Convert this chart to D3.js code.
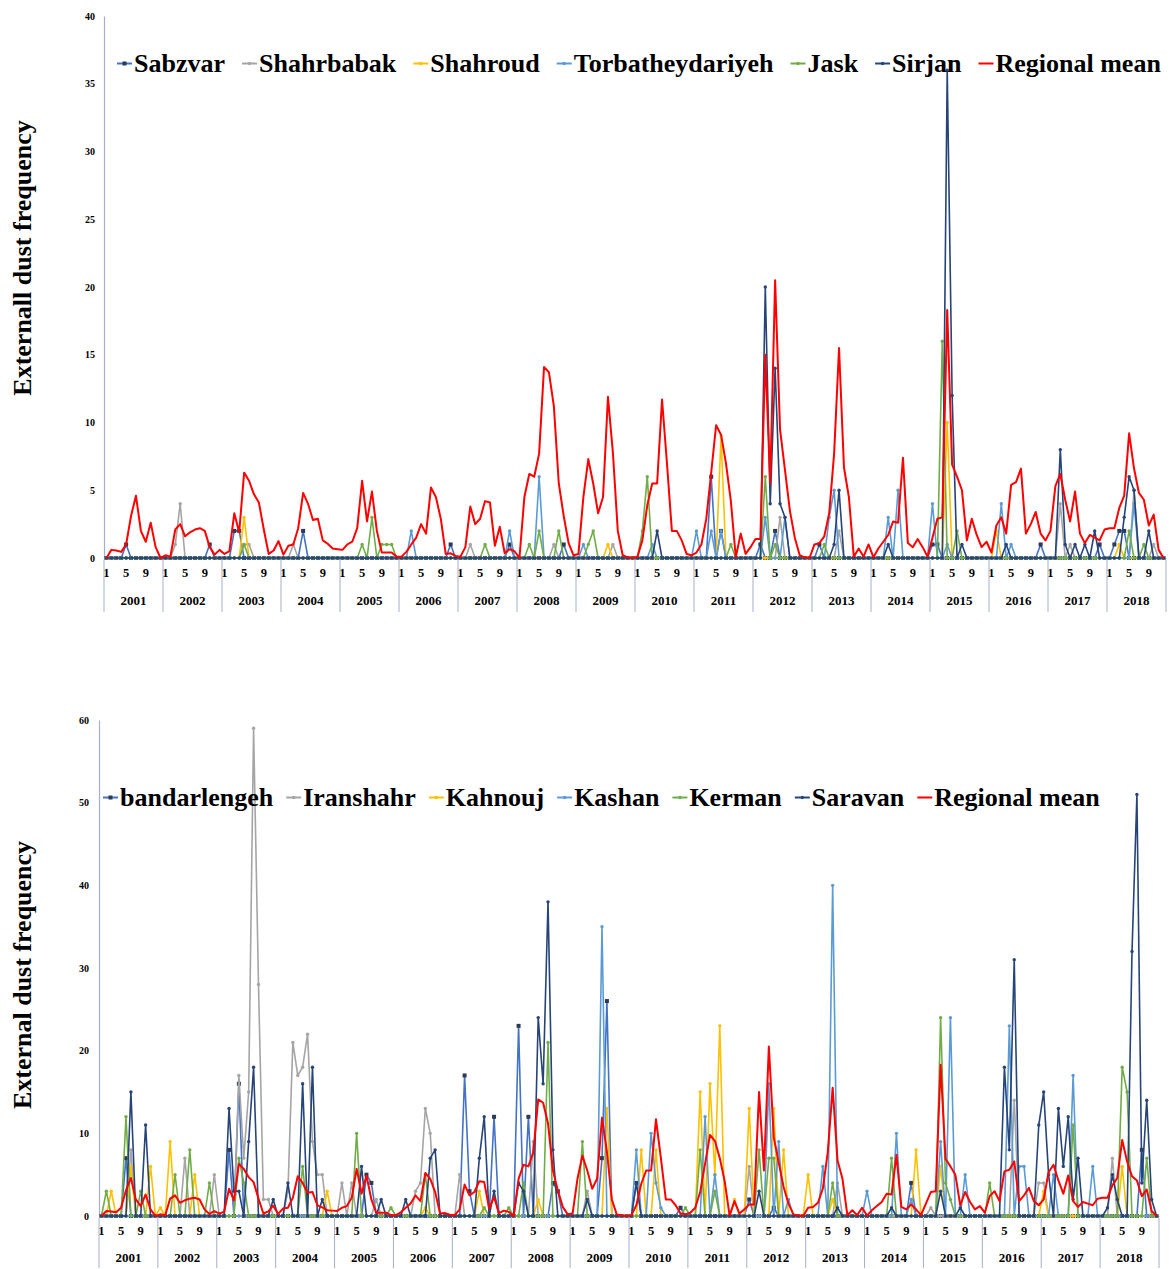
<!DOCTYPE html>
<html>
<head>
<meta charset="utf-8">
<script src="https://cdn.jsdelivr.net/npm/d3@7"></script>
<style>
body { margin: 0; background: #fff; }
svg text { font-family: "Liberation Serif", "Times New Roman", serif; font-weight: bold; fill: #000; }
</style>
</head>
<body>
<svg id="chart" width="1172" height="1269"></svg>
<script>
// ---- categories / ticks ----
var yearLabels = ["2001","2002","2003","2004","2005","2006","2007","2008","2009",
                  "2010","2011","2012","2013","2014","2015","2016","2017","2018"];
var monthTicks = [1, 5, 9];
var yTicksTop = [0, 5, 10, 15, 20, 25, 30, 35, 40];
var yTicksBottom = [0, 10, 20, 30, 40, 50, 60];

// ---- regional mean (shared by both panels), one row per year ----
var regionalMean = [
  [0,0.6,0.55,0.45,1.0,3.1,4.6,2.0,1.2,2.6,0.8,0],
  [0.2,0.1,2.1,2.5,1.6,1.9,2.1,2.2,2.0,0.8,0.25,0.6],
  [0.3,0.5,3.3,1.9,6.3,5.7,4.7,4.1,2.1,0.3,0.55,1.25],
  [0.25,0.9,1.0,2.2,4.8,4.0,2.8,2.9,1.3,1.05,0.7,0.65],
  [0.6,1.0,1.2,2.2,5.7,2.7,4.9,2.0,0.4,0.4,0.4,0.1],
  [0.1,0.45,1.0,1.5,2.5,1.8,5.2,4.5,2.9,0.3,0.35,0.15],
  [0.1,0.8,3.8,2.5,2.9,4.2,4.1,0.9,2.3,0.35,0.65,0.5],
  [0,4.5,6.2,6.0,7.7,14.1,13.7,11.2,5.5,3.1,1.1,0.2],
  [0.3,4.5,7.3,5.5,3.3,4.5,11.9,7.8,2.0,0.2,0.05,0],
  [0.1,1.3,3.9,5.5,5.5,11.7,7.0,2.0,2.0,1.3,0.3,0.2],
  [0.4,1.0,2.9,6.3,9.8,9.1,7.0,4.2,0.05,1.8,0.3,0.8],
  [1.4,1.4,15.0,5.5,20.5,9.5,6.5,3.5,1.5,0.2,0.05,0],
  [1.0,1.1,1.6,3.3,7.7,15.5,6.7,4.5,0.1,0.7,0.1,1.0],
  [0.05,0.7,1.2,1.7,2.7,2.6,7.4,1.1,0.8,1.4,0.8,0.1],
  [1.5,2.9,3.0,18.3,6.9,6.0,5.0,1.3,2.9,1.7,0.8,1.2],
  [0.4,2.4,3.0,1.8,5.4,5.6,6.6,1.8,2.5,3.4,1.8,1.3],
  [2.0,5.3,6.2,4.3,2.7,4.9,1.8,1.1,1.7,1.5,1.3,2.1],
  [2.2,2.2,3.7,4.6,9.2,6.6,4.8,4.3,2.4,3.2,0.6,0]
];

// ---- top panel stations ----
var sabzvar = [
  [0,0,0,0,1,0,0,0,0,0,0,0],[0,0,0,0,0,0,0,0,0,1,0,0],[0,0,2,2,0,0,0,0,0,0,0,0],
  [0,0,0,0,2,0,0,0,0,0,0,0],[0,0,0,0,0,0,0,0,0,0,0,0],[0,0,0,0,0,0,0,0,0,0,1,0],
  [0,0,0,0,0,0,0,0,0,0,1,0],[0,0,0,0,0,0,0,0,0,1,0,0],[0,0,0,0,0,0,0,0,0,0,0,0],
  [0,0,0,0,0,0,0,0,0,0,0,0],[0,0,0,6,0,2,0,0,0,0,0,0],[0,1,0,0,2,0,0,0,0,0,0,0],
  [0,1,0,0,0,0,0,0,0,0,0,0],[0,0,0,0,0,0,0,0,0,0,0,0],[1,1,0,0,0,0,0,0,0,0,0,0],
  [0,0,0,0,0,0,0,0,0,0,1,0],[0,0,0,0,0,0,0,0,0,0,1,0],[0,1,2,2,0,0,0,0,0,0,0,0]
];
var shahrbabak = [
  [0,0,0,0,0,0,0,0,0,0,0,0],[0,0,1,4,0,0,0,0,0,0,0,0],[0,0,0,0,1,1,0,0,0,0,0,0],
  [0,0,1,0,0,0,0,0,0,0,0,0],[0,0,0,0,0,0,0,0,0,0,0,0],[0,0,0,0,0,0,0,0,0,0,0,0],
  [0,0,1,0,0,0,0,0,0,0,0,0],[0,0,0,0,0,0,0,1,0,0,0,0],[0,0,0,0,0,0,0,1,0,0,0,0],
  [0,0,0,0,0,0,0,0,0,0,0,0],[0,0,0,0,0,0,0,0,0,0,0,0],[0,0,0,0,0,3,0,0,0,0,0,0],
  [0,0,0,0,0,2,0,0,0,0,0,0],[0,0,0,0,0,0,0,0,0,0,0,0],[0,0,0,0,0,0,0,0,0,0,0,0],
  [0,0,0,0,0,0,0,0,0,0,0,0],[0,0,4,0,1,0,0,0,0,0,0,0],[0,0,0,0,0,5,0,0,0,1,0,0]
];
var shahroud = [
  [0,0,0,0,0,0,0,0,0,0,0,0],[0,0,0,0,0,0,0,0,0,0,0,0],[0,0,0,0,3,0,0,0,0,0,0,0],
  [0,0,0,0,0,0,0,0,0,0,0,0],[0,0,0,0,0,0,0,0,0,0,0,0],[0,0,0,0,0,0,0,0,0,0,0,0],
  [0,0,0,0,0,0,0,0,0,0,0,0],[0,0,0,0,0,0,0,0,0,0,0,0],[0,0,0,0,0,0,1,0,0,0,0,0],
  [0,0,0,0,0,0,0,0,0,0,0,0],[0,0,0,0,0,9,0,0,0,0,0,0],[0,0,0,0,0,0,0,0,0,0,0,0],
  [0,0,0,0,0,0,0,0,0,0,0,0],[0,0,0,0,0,0,0,0,0,0,0,0],[0,0,0,10,0,0,0,0,0,0,0,0],
  [0,2,0,0,0,0,0,0,0,0,0,0],[0,0,0,0,0,0,0,0,0,0,0,0],[0,0,1,0,0,0,0,0,0,0,0,0]
];
var torbatheydariyeh = [
  [0,0,0,0,0,0,0,0,0,0,0,0],[0,0,0,0,0,0,0,0,0,0,0,0],[0,0,0,0,0,0,0,0,0,0,0,0],
  [0,0,0,0,0,0,0,0,0,0,0,0],[0,0,0,0,0,0,0,0,0,0,0,0],[0,0,2,0,0,0,0,0,0,0,0,0],
  [0,0,0,0,0,0,0,0,0,0,2,0],[0,0,0,0,6,0,0,0,0,0,0,0],[0,1,0,0,0,0,0,0,0,0,0,0],
  [0,0,0,1,0,0,0,0,0,0,0,0],[2,0,0,2,0,2,0,0,0,0,0,0],[0,0,3,0,0,0,3,0,0,0,0,0],
  [0,0,0,3,5,0,0,0,0,0,0,0],[0,0,0,3,0,5,0,0,0,0,0,0],[4,0,0,1,0,0,0,0,0,0,0,0],
  [0,0,4,0,1,0,0,0,0,0,0,0],[0,0,0,0,0,0,0,0,0,0,0,0],[0,0,0,0,0,4,0,0,0,0,0,0]
];
var jask = [
  [0,0,0,0,0,0,0,0,0,0,0,0],[0,0,0,0,0,0,0,0,0,0,0,0],[0,0,0,0,1,0,0,0,0,0,0,0],
  [0,0,0,0,0,0,0,0,0,0,0,0],[0,0,0,0,1,0,3,0,1,1,1,0],[0,0,0,0,0,0,0,0,0,0,0,0],
  [0,0,0,0,0,1,0,0,0,0,0,0],[0,0,1,0,2,0,0,0,2,0,0,0],[0,0,1,2,0,0,0,0,0,0,0,0],
  [0,2,6,0,0,0,0,0,0,0,0,0],[0,0,0,0,0,0,0,1,0,0,0,0],[0,0,6,0,1,0,0,0,0,0,0,0],
  [0,0,1,0,0,0,0,0,0,0,0,0],[0,0,0,0,0,0,0,0,0,0,0,0],[0,0,16,0,0,2,0,0,0,0,0,0],
  [0,0,0,0,0,0,0,0,0,0,0,0],[0,0,0,0,0,0,0,0,0,0,0,0],[0,0,0,0,2,0,0,1,0,0,0,0]
];
var sirjan = [
  [0,0,0,0,0,0,0,0,0,0,0,0],[0,0,0,0,0,0,0,0,0,0,0,0],[0,0,0,0,0,0,0,0,0,0,0,0],
  [0,0,0,0,0,0,0,0,0,0,0,0],[0,0,0,0,0,0,0,0,0,0,0,0],[0,0,0,0,0,0,0,0,0,0,0,0],
  [0,0,0,0,0,0,0,0,0,0,0,0],[0,0,0,0,0,0,0,0,0,0,0,0],[0,0,0,0,0,0,0,0,0,0,0,0],
  [0,0,0,0,2,0,0,0,0,0,0,0],[0,0,0,0,0,0,0,0,0,0,0,0],[0,0,20,4,14,4,3,0,0,0,0,0],
  [0,0,0,0,1,5,0,0,0,0,0,0],[0,0,0,1,0,0,0,0,0,0,0,0],[0,0,0,36,12,0,1,0,0,0,0,0],
  [0,0,0,1,0,0,0,0,0,0,0,0],[0,0,8,1,0,1,0,1,0,2,0,0],[0,0,0,3,6,5,0,0,2,0,0,0]
];

// ---- bottom panel stations ----
var bandarlengeh = [
  [0,0,0,0,0,7,0,0,0,0,0,0],[0,0,0,0,0,0,0,0,0,0,0,0],[0,0,8,0,16,0,0,0,0,0,0,0],
  [0,0,0,0,0,0,0,0,0,0,0,0],[0,0,0,0,0,0,5,4,0,0,0,0],[0,0,0,0,0,0,0,0,0,0,0,0],
  [0,0,17,3,0,0,0,0,12,0,0,0],[0,23,0,12,0,0,0,0,4,3,0,0],[0,0,0,0,0,0,7,26,0,0,0,0],
  [0,4,0,0,0,0,0,0,0,0,1,0],[0,0,0,0,0,0,0,0,0,0,0,0],[2,0,0,0,0,1,0,0,0,0,0,0],
  [0,0,0,0,0,0,0,0,0,0,0,0],[0,0,0,0,0,0,0,0,0,4,0,0],[0,0,0,0,0,0,0,0,0,0,0,0],
  [0,0,0,0,0,0,0,0,0,0,0,0],[0,0,0,0,0,0,0,0,0,0,0,0],[0,0,0,0,0,0,0,0,8,0,0,0]
];
var iranshahr = [
  [0,0,0,0,0,0,8,0,0,0,0,0],[0,0,0,0,0,7,0,0,0,0,0,5],[0,0,0,0,17,7,15,59,28,2,2,0],
  [0,0,3,21,17,18,22,9,5,5,0,0],[0,4,0,4,0,0,0,0,2,0,0,0],[0,0,0,0,3,4,13,10,0,0,0,0],
  [0,5,0,0,0,0,0,0,0,0,0,0],[0,0,0,0,9,0,0,0,0,0,0,0],[0,0,0,3,0,0,0,0,0,0,0,0],
  [0,0,0,0,0,0,0,0,0,0,0,0],[0,0,0,0,0,0,0,0,0,0,0,0],[6,0,0,0,0,0,0,0,0,0,0,0],
  [0,0,0,0,0,0,4,0,0,0,0,0],[0,0,0,0,0,0,0,0,0,0,0,0],[0,1,0,0,0,0,0,0,0,0,0,0],
  [0,0,0,0,0,0,14,0,0,0,0,4],[4,0,0,0,0,0,0,0,0,0,0,0],[0,0,7,0,0,0,0,0,0,0,0,0]
];
var kahnouj = [
  [0,0,3,0,0,0,6,0,0,0,6,0],[1,0,9,0,0,0,0,5,0,0,0,0],[0,0,0,0,0,0,0,0,0,0,0,0],
  [0,0,0,0,0,0,0,0,0,0,3,0],[0,0,0,0,0,0,0,0,0,0,0,0],[0,0,0,0,0,0,1,0,0,0,0,0],
  [0,0,0,0,0,3,0,0,0,0,0,0],[0,0,0,0,0,2,0,0,0,0,0,0],[0,0,0,0,0,0,0,13,0,0,0,0],
  [0,0,8,0,0,8,0,0,0,0,0,0],[0,0,15,0,16,5,23,0,0,2,0,0],[13,0,0,0,0,13,0,8,0,0,0,0],
  [5,0,0,0,0,2,0,0,0,0,0,0],[0,0,0,0,0,0,0,0,0,0,8,0],[0,0,0,6,0,0,0,0,0,0,0,0],
  [0,0,0,0,0,0,0,0,0,0,0,0],[3,0,0,0,0,0,0,0,0,0,0,0],[0,0,0,0,6,0,0,0,0,0,0,0]
];
var kashan = [
  [0,0,0,0,0,0,0,0,0,0,0,0],[0,0,0,0,0,0,0,0,0,0,0,0],[0,0,0,0,0,0,0,0,0,0,0,0],
  [0,0,0,0,0,0,0,0,0,0,0,0],[0,0,0,0,0,0,0,0,0,0,0,0],[0,0,0,0,0,0,0,0,0,0,0,0],
  [0,0,0,0,0,0,0,0,0,0,0,0],[0,0,0,0,0,0,0,0,0,0,0,0],[0,0,0,0,0,0,35,0,0,0,0,0],
  [0,8,0,0,10,4,1,0,0,0,0,0],[0,0,0,12,0,5,0,0,0,0,0,0],[0,0,0,0,16,0,9,0,2,0,0,0],
  [0,0,0,6,0,40,0,0,0,0,0,0],[3,0,0,0,0,0,10,0,0,2,0,0],[0,0,0,9,0,24,0,0,5,0,0,0],
  [0,0,0,0,0,23,0,6,6,0,0,0],[0,0,5,0,0,0,17,0,0,0,6,0],[0,0,0,0,0,0,0,0,0,0,0,0]
];
var kerman = [
  [0,3,0,0,0,12,0,0,3,0,0,0],[0,0,0,5,0,0,8,0,0,0,4,0],[0,0,0,0,7,4,0,0,0,0,0,0],
  [0,0,0,0,0,6,0,0,0,0,0,0],[0,0,0,0,10,0,0,0,0,0,0,1],[0,0,0,0,0,0,5,0,0,0,0,0],
  [0,0,0,0,0,0,1,0,0,0,0,1],[0,0,4,0,0,0,0,21,0,0,0,0],[0,0,9,0,0,0,0,0,0,0,0,0],
  [0,0,0,0,0,0,0,0,0,0,0,1],[0,0,8,0,0,3,0,0,0,0,0,0],[0,0,8,0,7,7,0,0,0,0,0,0],
  [0,0,0,0,0,4,0,0,0,0,0,0],[0,0,0,0,0,7,0,0,0,0,0,0],[0,0,0,24,4,2,0,0,0,0,0,0],
  [0,4,0,0,0,0,0,0,0,0,0,0],[0,0,0,0,0,0,11,0,0,0,0,0],[0,0,0,0,18,15,0,0,0,7,0,0]
];
var saravan = [
  [0,0,0,0,0,0,15,0,0,11,0,0],[0,0,0,0,0,0,0,0,0,0,0,0],[0,0,13,3,3,0,9,18,0,0,0,2],
  [0,0,4,0,0,16,0,18,0,2,0,0],[0,0,0,0,0,6,0,0,0,2,0,0],[0,0,2,0,0,0,0,7,8,0,0,0],
  [0,0,0,0,0,7,12,0,3,0,0,0],[0,4,3,0,0,24,16,38,8,0,0,0],[0,0,0,2,0,0,0,0,0,0,0,0],
  [0,4,0,0,0,0,0,0,0,0,0,0],[0,0,0,0,0,0,0,0,0,0,0,0],[0,0,3,0,0,0,0,0,0,0,0,0],
  [0,0,0,0,0,0,1,0,0,0,0,0],[0,0,0,0,0,1,0,0,0,0,0,0],[0,0,0,3,0,0,0,1,0,0,0,0],
  [0,0,0,0,18,8,31,0,0,0,0,11],[15,5,0,13,6,12,2,7,0,0,0,0],[0,1,5,2,0,0,32,51,4,14,2,0]
];

var axisColor = "#a4afcb";
var svg = d3.select("#chart");
svg.append("rect").attr("width", 1172).attr("height", 1269).attr("fill", "#fff");

function drawPanel(cfg) {
  var nMonths = yearLabels.length * 12;
  var x = d3.scaleBand().domain(d3.range(nMonths)).range([cfg.left, cfg.right]);
  var y = d3.scaleLinear().domain([0, cfg.yMax]).range([cfg.y0, cfg.yTop]);
  var cx = function(i) { return x(i) + x.bandwidth() / 2; };

  // y axis
  var ya = svg.append("g").attr("transform", "translate(" + cfg.left + ",0)")
    .call(d3.axisLeft(y).tickValues(cfg.yTicks).tickSize(0).tickPadding(cfg.yPad));
  ya.attr("font-family", null).attr("font-size", null);
  ya.select(".domain").attr("stroke", axisColor).attr("stroke-width", 1.2);
  ya.selectAll("text").style("font-size", "10px");

  // month axis (1, 5, 9 of each year)
  var monthIdx = d3.range(nMonths).filter(function(i) { return monthTicks.indexOf(i % 12 + 1) >= 0; });
  var ma = svg.append("g").attr("transform", "translate(0," + cfg.y0 + ")")
    .call(d3.axisBottom(x).tickValues(monthIdx).tickSize(0).tickSizeOuter(0).tickPadding(10)
      .tickFormat(function(i) { return String(i % 12 + 1); }));
  ma.attr("font-family", null).attr("font-size", null);
  ma.select(".domain").attr("stroke", axisColor).attr("stroke-width", 1.2);
  ma.selectAll("text").style("font-size", "12.5px");

  // year axis
  var yb = d3.scaleBand().domain(yearLabels).range([cfg.left, cfg.right]);
  var ta = svg.append("g").attr("transform", "translate(0," + cfg.y0 + ")")
    .call(d3.axisBottom(yb).tickSize(0).tickPadding(cfg.yearPad));
  ta.attr("font-family", null).attr("font-size", null);
  ta.select(".domain").remove();
  ta.selectAll("text").style("font-size", "13px");

  var bounds = yearLabels.map(function(d) { return yb(d); }).concat([cfg.right]);
  svg.append("g").selectAll("line").data(bounds).join("line")
    .attr("x1", function(d) { return d; }).attr("x2", function(d) { return d; })
    .attr("y1", cfg.y0 + 2).attr("y2", cfg.y0 + cfg.sepLen)
    .attr("stroke", axisColor).attr("stroke-width", 1);

  // station series
  var line = d3.line().x(function(d, i) { return cx(i); }).y(function(d) { return y(d); });
  cfg.series.forEach(function(s) {
    var vals = s.data.flat();
    var g = svg.append("g");
    g.append("path").datum(vals).attr("d", line)
      .attr("fill", "none").attr("stroke", s.color).attr("stroke-width", 1.6)
      .attr("stroke-linejoin", "round");
    if (s.square) {
      g.selectAll("rect").data(vals).join("rect")
        .attr("x", function(d, i) { return cx(i) - 2; }).attr("y", function(d) { return y(d) - 2; })
        .attr("width", 4).attr("height", 4).attr("fill", s.marker);
    } else {
      g.selectAll("circle").data(vals).join("circle")
        .attr("cx", function(d, i) { return cx(i); }).attr("cy", function(d) { return y(d); })
        .attr("r", 1.7).attr("fill", s.marker);
    }
  });

  // regional mean
  svg.append("path").datum(regionalMean.flat()).attr("d", line)
    .attr("fill", "none").attr("stroke", "#ff0000").attr("stroke-width", 2)
    .attr("stroke-linejoin", "round");

  // legend
  var lx = cfg.legendX;
  cfg.series.concat([{ name: "Regional mean", color: "#ff0000" }]).forEach(function(s) {
    var g = svg.append("g");
    var my = cfg.legendY - 8.5;
    g.append("line").attr("x1", lx - 17).attr("x2", lx - 2).attr("y1", my).attr("y2", my)
      .attr("stroke", s.color).attr("stroke-width", 2);
    if (s.square) {
      g.append("rect").attr("x", lx - 11.5).attr("y", my - 2).attr("width", 4).attr("height", 4).attr("fill", s.marker);
    } else if (s.marker) {
      g.append("circle").attr("cx", lx - 9.5).attr("cy", my).attr("r", 1.7).attr("fill", s.marker);
    }
    var t = g.append("text").attr("x", lx).attr("y", cfg.legendY).style("font-size", "26px").text(s.name);
    lx += t.node().getComputedTextLength() + cfg.legendGap;
  });

  // y title
  svg.append("text")
    .attr("transform", "translate(31," + cfg.titleY + ") rotate(-90)")
    .attr("text-anchor", "middle").style("font-size", "26px").text(cfg.title);
}

drawPanel({
  left: 104, right: 1166, y0: 558, yTop: 16, yMax: 40, yTicks: yTicksTop, yPad: 9,
  yearPad: 38, sepLen: 54, legendX: 134, legendY: 72, legendGap: 34,
  titleY: 258, title: "Externall dust frequency",
  series: [
    { name: "Sabzvar", data: sabzvar, color: "#4472c4", marker: "#2d3a55", square: true },
    { name: "Shahrbabak", data: shahrbabak, color: "#a5a5a5", marker: "#a5a5a5" },
    { name: "Shahroud", data: shahroud, color: "#ffc000", marker: "#ffc000" },
    { name: "Torbatheydariyeh", data: torbatheydariyeh, color: "#5b9bd5", marker: "#5b9bd5" },
    { name: "Jask", data: jask, color: "#70ad47", marker: "#70ad47" },
    { name: "Sirjan", data: sirjan, color: "#264478", marker: "#264478" }
  ]
});

drawPanel({
  left: 99, right: 1159, y0: 1216, yTop: 720, yMax: 60, yTicks: yTicksBottom, yPad: 10,
  yearPad: 37, sepLen: 52, legendX: 120, legendY: 806, legendGap: 30,
  titleY: 975, title: "External dust frequency",
  series: [
    { name: "bandarlengeh", data: bandarlengeh, color: "#4472c4", marker: "#2d3a55", square: true },
    { name: "Iranshahr", data: iranshahr, color: "#a5a5a5", marker: "#a5a5a5" },
    { name: "Kahnouj", data: kahnouj, color: "#ffc000", marker: "#ffc000" },
    { name: "Kashan", data: kashan, color: "#5b9bd5", marker: "#5b9bd5" },
    { name: "Kerman", data: kerman, color: "#70ad47", marker: "#70ad47" },
    { name: "Saravan", data: saravan, color: "#264478", marker: "#264478" }
  ]
});
</script>
</body>
</html>
